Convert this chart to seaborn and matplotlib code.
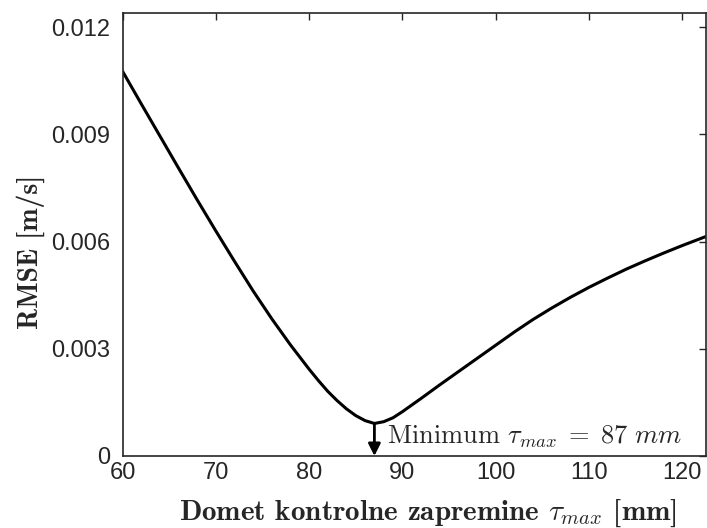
import numpy as np
import pandas as pd
import matplotlib
matplotlib.use("Agg")
import matplotlib.pyplot as plt
from matplotlib.ticker import FuncFormatter
import seaborn as sns

# RMSE vs. control volume range
tau_max = [60, 62, 64, 66, 68, 70, 72, 74, 76, 78, 80, 81, 82, 83, 84,
           85, 86, 87, 88, 89, 90, 92, 94, 96, 98, 100, 102, 104, 106, 108,
           110, 112, 114, 116, 118, 120, 122.5]
rmse = [0.01077, 0.00986, 0.00896, 0.00806, 0.00717, 0.00630, 0.00545,
        0.00462, 0.00384, 0.00311, 0.00243, 0.00211, 0.00181, 0.00155,
        0.00132, 0.00113, 0.00099, 0.00091, 0.00096, 0.00107, 0.00124,
        0.00161, 0.00199, 0.00236, 0.00273, 0.00310, 0.00347, 0.00382,
        0.00414, 0.00444, 0.00472, 0.00498, 0.00523, 0.00546, 0.00568,
        0.00589, 0.00614]
x_ticks = [60, 70, 80, 90, 100, 110, 120]
y_ticks = [0, 0.003, 0.006, 0.009, 0.012]
min_tau = 87
min_rmse = 0.00091

df = pd.DataFrame({"tau": tau_max, "rmse": rmse})

sns.set_theme(style="white")
plt.rcParams["font.family"] = ["Liberation Sans", "DejaVu Sans"]
plt.rcParams["mathtext.fontset"] = "cm"

fig = plt.figure(figsize=(7.07, 5.28), dpi=100)
ax = fig.add_axes([0.1733, 0.1364, 0.8247, 0.839])

sns.lineplot(data=df, x="tau", y="rmse", ax=ax, color="black", linewidth=2.2)

ax.set_xlim(60, 122.5)
ax.set_ylim(0, 0.0124)
ax.set_xticks(x_ticks)
ax.set_yticks(y_ticks)
ax.yaxis.set_major_formatter(FuncFormatter(lambda v, p: "0" if v == 0 else f"{v:.3f}"))

ax.tick_params(direction="in", length=5, width=1, top=True, right=True,
               labelsize=17, labelcolor="#262626", color="#262626")
ax.tick_params(axis="y", pad=9)
ax.tick_params(axis="x", pad=4)
for s in ax.spines.values():
    s.set_color("#262626")
    s.set_linewidth(1.2)

ax.set_xlabel(r"Domet kontrolne zapremine $\tau_{max}$ [mm]", family="cmb10",
              fontsize=21)
ax.set_ylabel("RMSE [m/s]", family="cmb10", fontsize=20)
ax.xaxis.set_label_coords(0.523, -0.093)
ax.yaxis.set_label_coords(-0.133, 0.46)

ax.annotate("", xy=(min_tau, 0), xytext=(min_tau, min_rmse),
            arrowprops=dict(arrowstyle="-|>", color="black", lw=2,
                            mutation_scale=18, shrinkA=0, shrinkB=0))
ax.text(min_tau + 1.3, min_rmse * 0.6, r"Minimum $\tau_{max}\;=\;87\ mm$",
        family="cmr10", fontsize=19, va="center", ha="left")

fig.savefig("out.png", dpi=100)
